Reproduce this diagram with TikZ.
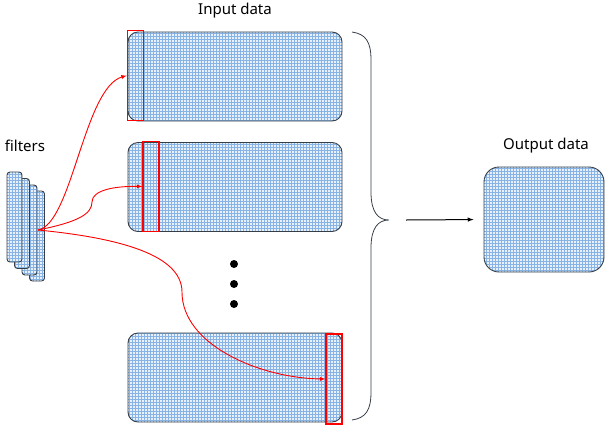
\documentclass[tikz,border=0pt]{standalone}
\usepackage{fontspec}
\setmainfont{Noto Sans}
\usepackage{tikz}
\usetikzlibrary{patterns}

\definecolor{gridblue}{RGB}{135,180,228}
\definecolor{paleblue}{RGB}{232,241,251}
\definecolor{edgegray}{RGB}{55,62,72}

\tikzset{
  meshfill/.style={preaction={fill=paleblue},pattern=grid,pattern color=gridblue},
  databox/.style={draw=edgegray,line width=0.9pt,meshfill,rounded corners=10pt,inner sep=0pt,minimum width=214pt,minimum height=89pt},
  filterbox/.style={draw=edgegray,line width=0.9pt,meshfill,rounded corners=3pt,inner sep=0pt,minimum width=15pt,minimum height=90pt},
  window/.style={draw=red,line width=1.4pt,inner sep=0pt,minimum width=16pt,minimum height=90pt},
  flow/.style={red,line width=0.9pt,-latex},
  caption/.style={font=\fontsize{15}{18}\selectfont}
}

\begin{document}
\begin{tikzpicture}[x=1pt,y=-1pt]
\useasboundingbox (0,0) rectangle (606,432);

\node[caption] (inlabel) at (235,11) {Input data};
\node[caption] (filtlabel) at (25,146) {filters};
\node[caption] (outlabel) at (546,146) {Output data};

\node[databox] (input0) at (235,76.5) {};
\node[databox] (input1) at (235,187) {};
\node[databox] (input2) at (235,377.5) {};

\foreach \i/\y in {0/264,1/284,2/304}
  \node[circle,fill=black,inner sep=0pt,minimum size=8pt] (dot\i) at (234,\y) {};

\node[filterbox] (filter3) at (37,236) {};
\node[filterbox] (filter2) at (29.5,230) {};
\node[filterbox] (filter1) at (22,223.5) {};
\node[filterbox] (filter0) at (14.5,217) {};

\node[window] (window0) at (135.5,75.5) {};
\node[window] (window1) at (151,186.5) {};
\node[window] (window2) at (334,379) {};

\node[draw=edgegray,line width=0.9pt,meshfill,rounded corners=15pt,inner sep=0pt,minimum width=120pt,minimum height=105pt] (output) at (544,219.5) {};

\coordinate (src) at (38,230);
\draw[flow] (src) .. controls (72,224) and (84,88) .. (window0.west);
\draw[flow] (src) .. controls (78,222) and (92,214) .. (92,202) .. controls (92,190) and (115,186) .. (window1.west);
\draw[flow] (src) .. controls (120,238) and (182,255) .. (182,292) .. controls (182,345) and (260,378) .. (window2.west);

\draw[edgegray,line width=0.8pt] (352,32) .. controls (366,34) and (371,42) .. (371,60)
  -- (371,192) .. controls (371,212) and (378,220) .. (389,220)
  .. controls (378,220) and (371,228) .. (371,248)
  -- (371,392) .. controls (371,410) and (366,418) .. (352,420);

\coordinate (bracetip) at (406,220);
\draw[-latex,line width=1pt,shorten >=10pt] (bracetip) -- (output.west);
\end{tikzpicture}
\end{document}
